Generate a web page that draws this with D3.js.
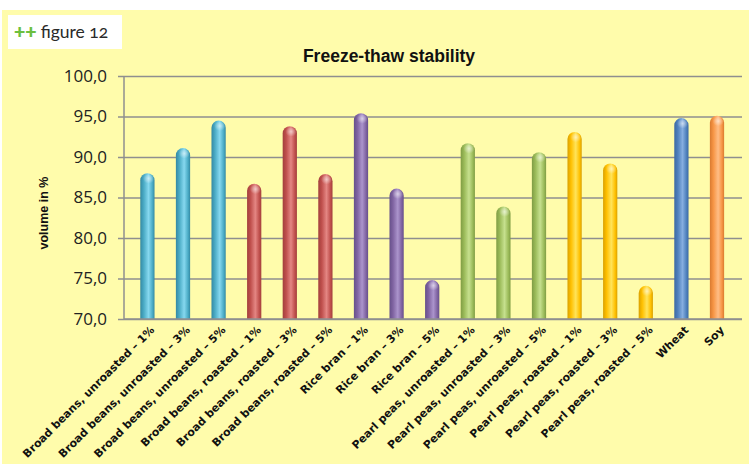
<!DOCTYPE html>
<html>
<head>
<meta charset="utf-8">
<script src="https://cdn.jsdelivr.net/npm/d3@7"></script>
<style>
  html, body { margin: 0; padding: 0; background: #ffffff; }
  svg { display: block; }
</style>
</head>
<body>
<svg id="chart" width="749" height="464"></svg>
<script>
// ---- data ----
const categories = [
  "Broad beans, unroasted – 1%",
  "Broad beans, unroasted – 3%",
  "Broad beans, unroasted – 5%",
  "Broad beans, roasted – 1%",
  "Broad beans, roasted – 3%",
  "Broad beans, roasted – 5%",
  "Rice bran – 1%",
  "Rice bran – 3%",
  "Rice bran – 5%",
  "Pearl peas, unroasted – 1%",
  "Pearl peas, unroasted – 3%",
  "Pearl peas, unroasted – 5%",
  "Pearl peas, roasted – 1%",
  "Pearl peas, roasted – 3%",
  "Pearl peas, roasted – 5%",
  "Wheat",
  "Soy"
];
const values = [88.0, 91.1, 94.5, 86.7, 93.8, 87.9, 95.4, 86.1, 74.8, 91.7, 83.9, 90.6, 93.1, 89.2, 74.1, 94.8, 95.1];
const groups = ["bbu","bbu","bbu","bbr","bbr","bbr","rb","rb","rb","ppu","ppu","ppu","ppr","ppr","ppr","wheat","soy"];
const yTicks = [70, 75, 80, 85, 90, 95, 100];
const yDomain = [70, 100];
const title = "Freeze-thaw stability";
const yTitle = "volume in %";

// ---- styles ----
const palette = {
  bbu:   {dark: "#3489a3", base: "#4bacc6", light: "#86d8ef"},
  bbr:   {dark: "#a23f3c", base: "#c0504d", light: "#e48683"},
  rb:    {dark: "#66508a", base: "#8064a2", light: "#ab94cc"},
  ppu:   {dark: "#7f9c44", base: "#9bbb59", light: "#c6e08e"},
  ppr:   {dark: "#d9a000", base: "#ffc000", light: "#ffe45a"},
  wheat: {dark: "#3c69a3", base: "#4f81bd", light: "#86aee0"},
  soy:   {dark: "#d97a30", base: "#f79646", light: "#ffbd85"}
};

const svg = d3.select("#chart");
const W = 749, H = 464;

// background
svg.append("rect").attr("x", 2).attr("y", 10).attr("width", W - 2).attr("height", H - 10).attr("fill", "#fffcab");

// figure label box
svg.append("rect").attr("x", 8).attr("y", 15).attr("width", 114).attr("height", 34).attr("fill", "#ffffff");
const fl = svg.append("text").attr("x", 14).attr("y", 38)
  .style("font-family", "Lato, 'Open Sans', sans-serif").style("font-size", "17.5px")
  .style("font-feature-settings", "'onum' 1");
fl.append("tspan").attr("fill", "#6cbf3f").style("font-weight", "900").style("font-size", "21px").text("++");
fl.append("tspan").attr("fill", "#2a2a2a").attr("dx", 4).text("figure 12");

// plot geometry
const axisLeftX = 124, gridRight = 742;
const plotTop = 76, plotBottom = 319;

const y = d3.scaleLinear().domain(yDomain).range([plotBottom, plotTop]);
const x = d3.scaleBand().domain(categories).range([129.6, 734.8]).paddingInner(0.6).paddingOuter(0.3);

// gradients
const defs = svg.append("defs");
Object.entries(palette).forEach(([k, c]) => {
  const g = defs.append("linearGradient").attr("id", "g-" + k).attr("x1", "0").attr("x2", "1").attr("y1", "0").attr("y2", "0");
  g.append("stop").attr("offset", "0%").attr("stop-color", c.dark);
  g.append("stop").attr("offset", "25%").attr("stop-color", c.base);
  g.append("stop").attr("offset", "58%").attr("stop-color", c.light);
  g.append("stop").attr("offset", "85%").attr("stop-color", c.base);
  g.append("stop").attr("offset", "100%").attr("stop-color", c.dark);
});
const hl = defs.append("radialGradient").attr("id", "hl").attr("cx", "0.55").attr("cy", "0.4").attr("r", "0.5");
hl.append("stop").attr("offset", "0%").attr("stop-color", "#ffffff").attr("stop-opacity", 0.55);
hl.append("stop").attr("offset", "100%").attr("stop-color", "#ffffff").attr("stop-opacity", 0);

// gridlines
const grid = svg.append("g").attr("transform", `translate(${axisLeftX},0)`)
  .call(d3.axisLeft(y).tickValues(yTicks).tickSize(-(gridRight - axisLeftX)).tickFormat(""));
grid.select(".domain").remove();
grid.selectAll("line").attr("stroke", "#8f8f8f").attr("stroke-width", 1.5);

// y axis
const yAxis = svg.append("g").attr("transform", `translate(${axisLeftX},0)`)
  .call(d3.axisLeft(y).tickValues(yTicks).tickSize(6).tickPadding(11)
    .tickFormat(d => d3.format(".1f")(d).replace(".", ",")));
yAxis.select(".domain").attr("stroke", "#8f8f8f").attr("stroke-width", 1.5).attr("d", `M0,${plotTop}V${plotBottom}`);
yAxis.selectAll(".tick line").attr("stroke", "#8f8f8f").attr("stroke-width", 1.5);
yAxis.selectAll(".tick text").attr("fill", "#222").style("font-family", "'Open Sans', sans-serif").style("font-size", "17px");

// bars
const bw = x.bandwidth();
const bars = svg.append("g");
categories.forEach((cat, i) => {
  const v = values[i];
  const x0 = x(cat), r = bw / 2;
  const top = y(v);
  const path = `M${x0},${plotBottom}V${top + r}A${r},${r} 0 0 1 ${x0 + bw},${top + r}V${plotBottom}Z`;
  bars.append("path").attr("d", path).attr("fill", `url(#g-${groups[i]})`);
  bars.append("ellipse").attr("cx", x0 + r * 1.1).attr("cy", top + r * 0.9).attr("rx", r * 0.8).attr("ry", r * 0.7).attr("fill", "url(#hl)");
});

// x axis line
svg.append("line").attr("x1", axisLeftX).attr("x2", gridRight).attr("y1", plotBottom).attr("y2", plotBottom)
  .attr("stroke", "#8f8f8f").attr("stroke-width", 1.5);

// x labels
svg.append("g").selectAll("text").data(categories).join("text")
  .attr("transform", d => `translate(${x(d) + bw / 2 + 5},${plotBottom + 9}) rotate(-45)`)
  .attr("text-anchor", "end")
  .attr("dy", "0.35em")
  .attr("fill", "#111")
  .style("font-family", "'DejaVu Sans', Verdana, sans-serif")
  .style("font-size", "11px")
  .style("font-weight", "bold")
  .text(d => d);

// title
svg.append("text").attr("x", 389).attr("y", 62).attr("text-anchor", "middle")
  .style("font-family", "'Liberation Sans', Arial, sans-serif").style("font-size", "17.5px").style("font-weight", "bold")
  .attr("fill", "#111").text(title);

// y title
svg.append("text").attr("transform", `translate(48,213) rotate(-90)`).attr("text-anchor", "middle")
  .style("font-family", "'Liberation Sans', Arial, sans-serif").style("font-size", "12.5px").style("font-weight", "bold")
  .attr("fill", "#111").text(yTitle);
</script>
</body>
</html>
